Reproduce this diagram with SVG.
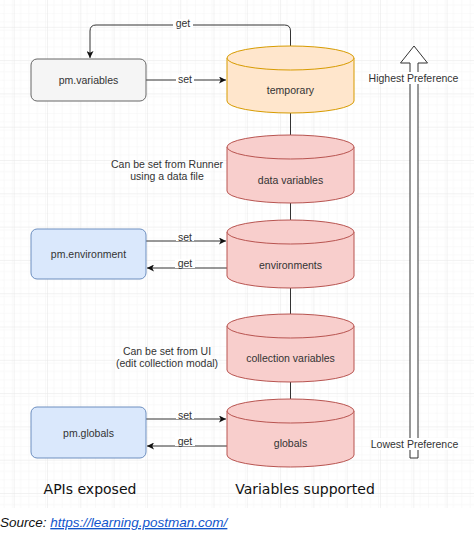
<svg xmlns="http://www.w3.org/2000/svg" width="474" height="537" viewBox="0 0 474 537">
<style>
.t{font-family:"Liberation Sans",Arial,sans-serif;font-size:10.5px;fill:#333;text-anchor:middle;dominant-baseline:central}
.big{font-family:"DejaVu Sans",Verdana,sans-serif;font-size:14px;fill:#111;text-anchor:middle;dominant-baseline:central}
.red{fill:#f8cecc;stroke:#b85450;stroke-width:1}
.org{fill:#ffe6cc;stroke:#d79b00;stroke-width:1}
.blue{fill:#dae8fc;stroke:#6c8ebf;stroke-width:1}
.grey{fill:#f5f5f5;stroke:#666;stroke-width:1}
.ln{fill:none;stroke:#333;stroke-width:1}
.bg{fill:#fff}
</style>
<defs>
<pattern id="minor" width="8.33" height="8.33" patternUnits="userSpaceOnUse" x="14.7" y="27.8">
<path d="M8.33 0V8.33H0" fill="none" stroke="#f4f4f4" stroke-width="1"/>
</pattern>
<pattern id="major" width="33.3" height="33.3" patternUnits="userSpaceOnUse" x="14.7" y="27.8">
<rect width="33.3" height="33.3" fill="url(#minor)"/>
<path d="M33.3 0V33.3H0" fill="none" stroke="#e6e6e6" stroke-width="1"/>
</pattern>
<marker id="arr" viewBox="0 0 10 10" refX="10" refY="5" markerWidth="7" markerHeight="7" orient="auto" markerUnits="userSpaceOnUse">
<path d="M0 0L10 5L0 10L2.5 5Z" fill="#111"/>
</marker>
</defs>
<rect width="474" height="537" fill="#fff"/>
<rect width="474" height="508" fill="url(#major)"/>

<g id="connectors">
<path class="ln" d="M290.5 46V31Q290.5 25 284.5 25H96Q90 25 90 31V58" marker-end="url(#arr)"/>
<rect class="bg" x="173" y="19" width="20" height="11"/>
<text class="t" x="183" y="23">get</text>
<path class="ln" d="M146 80H226" marker-end="url(#arr)"/>
<rect class="bg" x="176" y="74" width="18" height="9"/>
<text class="t" x="185" y="79">set</text>

<path class="ln" d="M146 241H226" marker-end="url(#arr)"/>
<rect class="bg" x="176" y="233" width="18" height="8"/>
<text class="t" x="185" y="237">set</text>
<path class="ln" d="M227 268H147" marker-end="url(#arr)"/>
<rect class="bg" x="175" y="259" width="20" height="9"/>
<text class="t" x="185" y="263">get</text>

<path class="ln" d="M146 419H226" marker-end="url(#arr)"/>
<rect class="bg" x="176" y="411" width="18" height="8"/>
<text class="t" x="185" y="415">set</text>
<path class="ln" d="M227 446H147" marker-end="url(#arr)"/>
<rect class="bg" x="175" y="437" width="20" height="9"/>
<text class="t" x="185" y="441">get</text>

<path class="ln" d="M290.5 113V135M290.5 203V220M290.5 288V314M290.5 382V399"/>
</g>

<g id="pm-variables">
<rect class="grey" x="31" y="59" width="115" height="42" rx="6"/>
<text class="t" x="88.5" y="80">pm.variables</text>
</g>
<g id="pm-environment">
<rect class="blue" x="31" y="229" width="115" height="50" rx="6"/>
<text class="t" x="88.5" y="254">pm.environment</text>
</g>
<g id="pm-globals">
<rect class="blue" x="31" y="407" width="115" height="51" rx="6"/>
<text class="t" x="88.5" y="433">pm.globals</text>
</g>

<g id="temporary">
<path class="org" d="M227 58V101A63.5 12 0 0 0 354 101V58"/>
<ellipse class="org" cx="290.5" cy="58" rx="63.5" ry="12"/>
<text class="t" x="290.5" y="90">temporary</text>
</g>
<g id="data-variables">
<path class="red" d="M227 147V191A63.5 12 0 0 0 354 191V147"/>
<ellipse class="red" cx="290.5" cy="147" rx="63.5" ry="12"/>
<text class="t" x="290.5" y="180">data variables</text>
</g>
<g id="environments">
<path class="red" d="M227 232V276A63.5 12 0 0 0 354 276V232"/>
<ellipse class="red" cx="290.5" cy="232" rx="63.5" ry="12"/>
<text class="t" x="290.5" y="265">environments</text>
</g>
<g id="collection-variables">
<path class="red" d="M227 326V370A63.5 12 0 0 0 354 370V326"/>
<ellipse class="red" cx="290.5" cy="326" rx="63.5" ry="12"/>
<text class="t" x="290.5" y="358">collection variables</text>
</g>
<g id="globals">
<path class="red" d="M227 411V455A63.5 12 0 0 0 354 455V411"/>
<ellipse class="red" cx="290.5" cy="411" rx="63.5" ry="12"/>
<text class="t" x="290.5" y="443">globals</text>
</g>

<g id="note-runner">
<text class="t" x="167" y="164">Can be set from Runner</text>
<text class="t" x="167" y="176">using a data file</text>
</g>
<g id="note-ui">
<text class="t" x="167" y="351">Can be set from UI</text>
<text class="t" x="167" y="363">(edit collection modal)</text>
</g>

<g id="preference-arrow">
<path d="M414 46L427.5 63H418V458H410V63H400.5Z" fill="#fff" stroke="#333" stroke-width="1"/>
<rect class="bg" x="370" y="72" width="88" height="12"/>
<text class="t" x="413.5" y="78">Highest Preference</text>
<rect class="bg" x="372" y="438" width="85" height="12"/>
<text class="t" x="414.5" y="444">Lowest Preference</text>
</g>

<g id="footer">
<text class="big" x="90" y="489">APIs exposed</text>
<text class="big" x="305" y="489">Variables supported</text>
<text x="0" y="527" font-family="'Liberation Sans',Arial,sans-serif" font-size="13.5" font-style="italic" fill="#111">Source: <tspan fill="#1155cc" text-decoration="underline">https://learning.postman.com/</tspan></text>
</g>
</svg>
